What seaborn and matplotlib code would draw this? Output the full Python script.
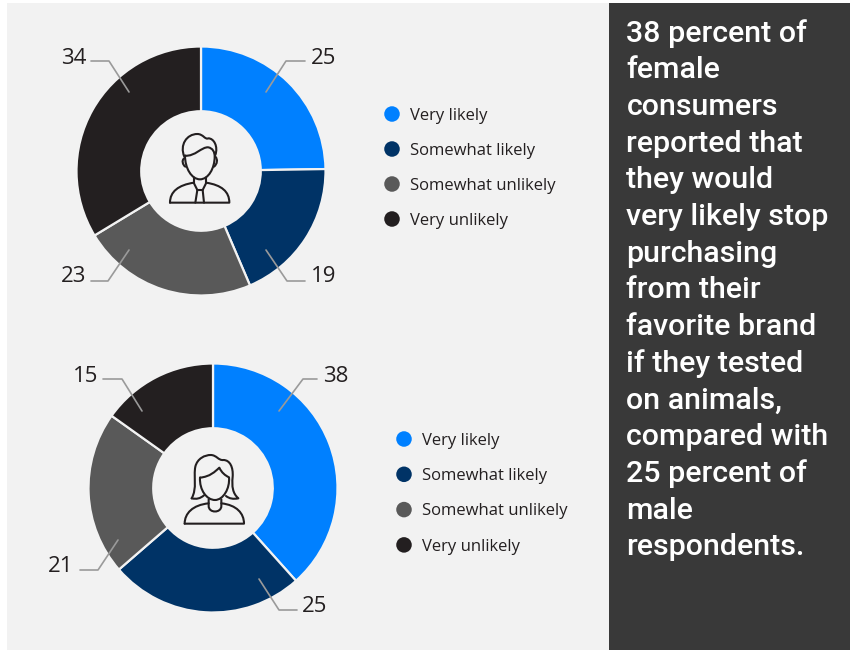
"""Two donut charts with side note, animal testing survey."""

import matplotlib.pyplot as plt
from matplotlib.patches import PathPatch, Rectangle
from matplotlib.path import Path
import pandas as pd
import seaborn as sns

# Data
categories = ['Very likely', 'Somewhat likely', 'Somewhat unlikely', 'Very unlikely']
male_values = [25, 19, 23, 34]
female_values = [38, 25, 21, 15]
colors = ['#0080FF', '#003366', '#595959', '#231F20']
note_lines = ['38 percent of', 'female', 'consumers', 'reported that', 'they would',
              'very likely stop', 'purchasing', 'from their', 'favorite brand',
              'if they tested', 'on animals,', 'compared with', '25 percent of',
              'male', 'respondents.']

PANEL = '#F2F2F2'
DARK = '#393939'
W, H = 850, 650

# Leader lines: value, points in pixels, label anchor
male_leaders = [
    (25, [(266, 92), (286, 61), (305, 61)], (311, 58), 'left'),
    (19, [(266, 250), (287, 281), (305, 281)], (311, 276), 'left'),
    (23, [(129, 250), (108, 281), (91, 281)], (86, 276), 'right'),
    (34, [(129, 92), (109, 61), (91, 61)], (86, 58), 'right'),
]
female_leaders = [
    (38, [(279, 411), (303, 379), (317, 379)], (323, 376), 'left'),
    (25, [(259, 579), (279, 610), (297, 610)], (302, 606), 'left'),
    (21, [(118, 540), (98, 570), (80, 570)], (73, 567), 'right'),
    (15, [(142, 411), (122, 379), (103, 379)], (98, 376), 'right'),
]

# Icons, outlines in a 360 unit box
M, L, C = Path.MOVETO, Path.LINETO, Path.CURVE4
man_icon = [
    # hair
    [(M, (133, 140)), (C, (118, 105)), (C, (140, 72)), (C, (172, 72)),
     (C, (190, 72)), (C, (195, 90)), (C, (205, 85)), (C, (222, 85)), (C, (235, 110)), (C, (226, 135))],
    # fringe and face
    [(M, (135, 137)), (C, (165, 140)), (C, (185, 110)), (C, (205, 112)),
     (C, (218, 115)), (C, (224, 125)), (C, (224, 140)), (C, (224, 175)), (C, (205, 208)), (C, (180, 208)),
     (C, (155, 208)), (C, (135, 175)), (C, (135, 137))],
    # ears
    [(M, (133, 145)), (C, (124, 150)), (C, (128, 165)), (C, (136, 170))],
    [(M, (226, 140)), (C, (234, 148)), (C, (232, 162)), (C, (222, 170))],
    # neck and collar
    [(M, (162, 203)), (L, (162, 220)), (L, (172, 240)), (L, (188, 240)), (L, (198, 220)), (L, (198, 203))],
    # shoulders
    [(M, (90, 278)), (L, (268, 278)), (C, (268, 245)), (C, (245, 225)), (C, (198, 218))],
    [(M, (90, 278)), (C, (90, 245)), (C, (115, 225)), (C, (162, 218))],
    # tie
    [(M, (172, 240)), (L, (166, 278))],
    [(M, (188, 240)), (L, (192, 278))],
]
woman_icon = [
    # hair
    [(M, (125, 205)), (C, (142, 175)), (C, (130, 140)), (C, (136, 110)),
     (C, (142, 85)), (C, (165, 75)), (C, (182, 75)), (C, (200, 75)), (C, (205, 92)), (C, (220, 90)),
     (C, (240, 90)), (C, (250, 112)), (C, (248, 140)), (C, (245, 170)), (C, (248, 190)), (C, (265, 205)),
     (C, (250, 208)), (C, (238, 206)), (C, (228, 198))],
    [(M, (125, 205)), (C, (140, 208)), (C, (150, 206)), (C, (162, 196))],
    # fringe and face
    [(M, (150, 143)), (C, (180, 140)), (C, (195, 125)), (C, (208, 113)),
     (C, (215, 128)), (C, (225, 136)), (C, (237, 142)), (C, (240, 175)), (C, (220, 210)), (C, (195, 210)),
     (C, (170, 210)), (C, (148, 180)), (C, (150, 143))],
    # neck
    [(M, (176, 208)), (L, (176, 228)), (C, (176, 250)), (C, (214, 250)), (C, (214, 228)), (L, (214, 208))],
    # shoulders
    [(M, (104, 281)), (L, (282, 281)), (C, (282, 250)), (C, (260, 225)), (C, (214, 220))],
    [(M, (104, 281)), (C, (104, 250)), (C, (128, 225)), (C, (176, 220))],
]


def px_axes(fig, left, top, width, height):
    """Axes placed with pixel coordinates from the top left corner."""
    return fig.add_axes([left / W, 1 - (top + height) / H, width / W, height / H])


def draw_donut(fig, values, cx, cy, radius=124.5):
    ax = px_axes(fig, cx - radius, cy - radius, radius * 2, radius * 2)
    ax.pie(values, colors=palette, startangle=90, counterclock=False, radius=1,
           wedgeprops={'width': 0.52, 'edgecolor': PANEL, 'linewidth': 1.6})
    ax.set_xlim(-1, 1)
    ax.set_ylim(-1, 1)
    ax.patch.set_alpha(0)
    return ax


def draw_legend(fig, dot_x, first_y, step):
    # dots through seaborn, one row per category
    ax = px_axes(fig, dot_x - 20, first_y - step / 2, 240, step * 4)
    frame = pd.DataFrame({'rank': range(len(categories)), 'category': categories, 'x': 0})
    sns.scatterplot(data=frame, x='x', y='rank', hue='category', palette=palette,
                    s=125, linewidth=0, legend=False, ax=ax)
    ax.set_xlim(-20, 220)
    ax.set_ylim(len(categories) - 0.5, -0.5)
    ax.axis('off')
    for i, name in enumerate(categories):
        ax.text(17.5, i + 0.05, name, fontsize=12, color='#231F20', va='center', ha='left')


def draw_icon(ax, strokes, left, top):
    for stroke in strokes:
        codes = [c for c, _ in stroke]
        verts = [(left + x / 3, top + y / 3) for _, (x, y) in stroke]
        ax.add_patch(PathPatch(Path(verts, codes), fill=False, edgecolor='#231F20',
                               linewidth=1.5, capstyle='round', joinstyle='round'))


def draw_leaders(ax, leaders):
    for value, points, anchor, align in leaders:
        ax.plot([p[0] for p in points], [p[1] for p in points], color='#9A9A9A', lw=1.2)
        ax.text(anchor[0], anchor[1], str(value), fontsize=16, color='#231F20',
                ha=align, va='center')


sns.set_theme(style='white', font='Open Sans')
palette = sns.color_palette(colors)

fig = plt.figure(figsize=(8.5, 6.5), dpi=100, facecolor='white')

# Backgrounds
back = fig.add_axes([0, 0, 1, 1])
back.set_xlim(0, W)
back.set_ylim(H, 0)
back.axis('off')
back.add_patch(Rectangle((7, 3), 602, 647, color=PANEL, lw=0))
back.add_patch(Rectangle((609, 3), 241, 647, color=DARK, lw=0))

draw_donut(fig, male_values, 201, 171)
draw_donut(fig, female_values, 213, 488)
draw_legend(fig, 392, 114, 35)
draw_legend(fig, 404, 439, 35.3)

# Overlay for leader lines, icons and side note
top = fig.add_axes([0, 0, 1, 1])
top.set_xlim(0, W)
top.set_ylim(H, 0)
top.axis('off')
top.patch.set_alpha(0)
draw_leaders(top, male_leaders)
draw_leaders(top, female_leaders)
draw_icon(top, man_icon, 140, 110)
draw_icon(top, woman_icon, 150, 430)

for i, line in enumerate(note_lines):
    top.text(626.5, 33.5 + i * 36.7, line, family='Roboto', fontweight='medium', fontsize=21.9,
             color='white', ha='left', va='center')

fig.savefig('out.png', dpi=100)
